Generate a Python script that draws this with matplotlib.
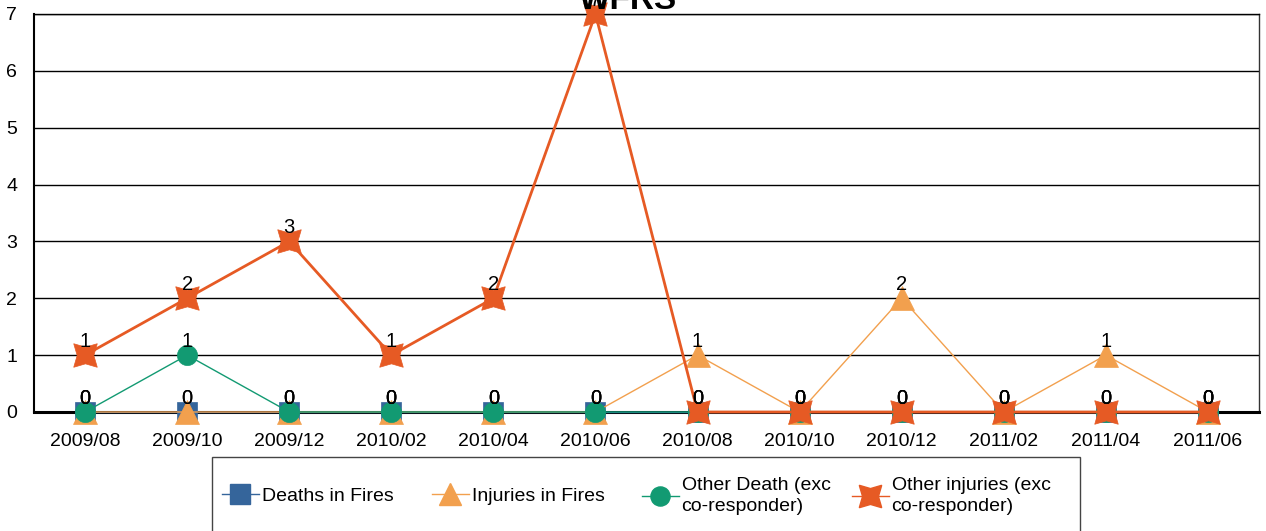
import matplotlib
matplotlib.use("Agg")
import matplotlib.pyplot as plt
from matplotlib.lines import Line2D
from matplotlib.patches import Rectangle

plt.rcParams['font.family'] = ['Liberation Sans', 'DejaVu Sans']

categories = ["2009/08", "2009/10", "2009/12", "2010/02", "2010/04", "2010/06",
              "2010/08", "2010/10", "2010/12", "2011/02", "2011/04", "2011/06"]
deaths_in_fires = [0, 0, 0, 0, 0, 0, 0, 0, 0, 0, 0, 0]
injuries_in_fires = [0, 0, 0, 0, 0, 0, 1, 0, 2, 0, 1, 0]
other_death = [0, 1, 0, 0, 0, 0, 0, 0, 0, 0, 0, 0]
other_injuries = [1, 2, 3, 1, 2, 7, 0, 0, 0, 0, 0, 0]
series_names = ["Deaths in Fires", "Injuries in Fires",
                "Other Death (exc\nco-responder)", "Other injuries (exc\nco-responder)"]
y_ticks = [0, 1, 2, 3, 4, 5, 6, 7]
title = "WFRS"

W, H = 1266, 531
fig = plt.figure(figsize=(W / 100, H / 100), dpi=100)
left, right, top, bottom = 34, 1259, 14, 412
ax = fig.add_axes([left / W, 1 - bottom / H, (right - left) / W, (bottom - top) / H])

styles = [
    dict(color="#35659b", marker="s", ms=15, lw=1.0, mfc="#35659b", mec="#35659b"),
    dict(color="#f2a04e", marker="^", ms=17, lw=1.0, mfc="#f2a04e", mec="#f2a04e"),
    dict(color="#129a72", marker="o", ms=14.5, lw=1.0, mfc="#129a72", mec="#129a72"),
    dict(color="#e65a24", marker=(4, 1, 45), ms=24, lw=2.0, mfc="#e65a24", mec="#e65a24"),
]
data = [deaths_in_fires, injuries_in_fires, other_death, other_injuries]
x = list(range(len(categories)))

for i, (vals, st) in enumerate(zip(data, styles)):
    ax.plot(x, vals, color=st["color"], lw=st["lw"], marker=st["marker"], ms=st["ms"],
            mfc=st["mfc"], mec=st["mec"], mew=0.5, zorder=3 + i, clip_on=False)
for i, vals in enumerate(data):
    for xi, v in zip(x, vals):
        ax.annotate(str(v), (xi, v), xytext=(0, 3), textcoords="offset points",
                    ha="center", va="bottom", fontsize=14.5, color="black",
                    zorder=10, annotation_clip=False)

ax.set_xlim(-0.5, len(categories) - 0.5)
ax.set_ylim(0, 7)
ax.set_yticks(y_ticks)
ax.set_yticklabels([str(t) for t in y_ticks], fontsize=14)
ax.set_xticks(x)
ax.set_xticklabels(categories, fontsize=14)
ax.tick_params(length=0)
ax.tick_params(axis="x", pad=15)
ax.tick_params(axis="y", pad=12)
for yv in y_ticks[1:]:
    ax.axhline(yv, color="black", lw=1.0, zorder=1)
ax.spines["left"].set_linewidth(1.5)
ax.spines["bottom"].set_linewidth(2.2)
ax.spines["top"].set_linewidth(1.0)
ax.spines["right"].set_linewidth(1.0)
ax.spines["right"].set_color("#333333")

fig.text(628 / W, 1 - 9 / H, title, ha="center", va="baseline",
         fontsize=24, fontweight="bold", zorder=0)

# legend box
fig.patches.append(Rectangle((212 / W, -0.05), (1080 - 212) / W, 0.05 + (1 - 457 / H),
                             transform=fig.transFigure, fill=False, ec="#444444", lw=1.0))
leg_x = [212, 422, 632, 842]
for i, (name, st) in enumerate(zip(series_names, styles)):
    h = Line2D([0], [0], color=st["color"], lw=1.0, marker=st["marker"],
               ms=st["ms"] * 0.95, mfc=st["mfc"], mec=st["mec"])
    leg = fig.legend(handles=[h], labels=[name], loc="center left",
                     bbox_to_anchor=(leg_x[i] / W, 1 - 496 / H), frameon=False,
                     fontsize=14, handlelength=1.9, handletextpad=0.15, borderpad=0,
                     labelspacing=0)
    for t in leg.get_texts():
        t.set_linespacing(1.3)

fig.savefig("out.png", dpi=100)
